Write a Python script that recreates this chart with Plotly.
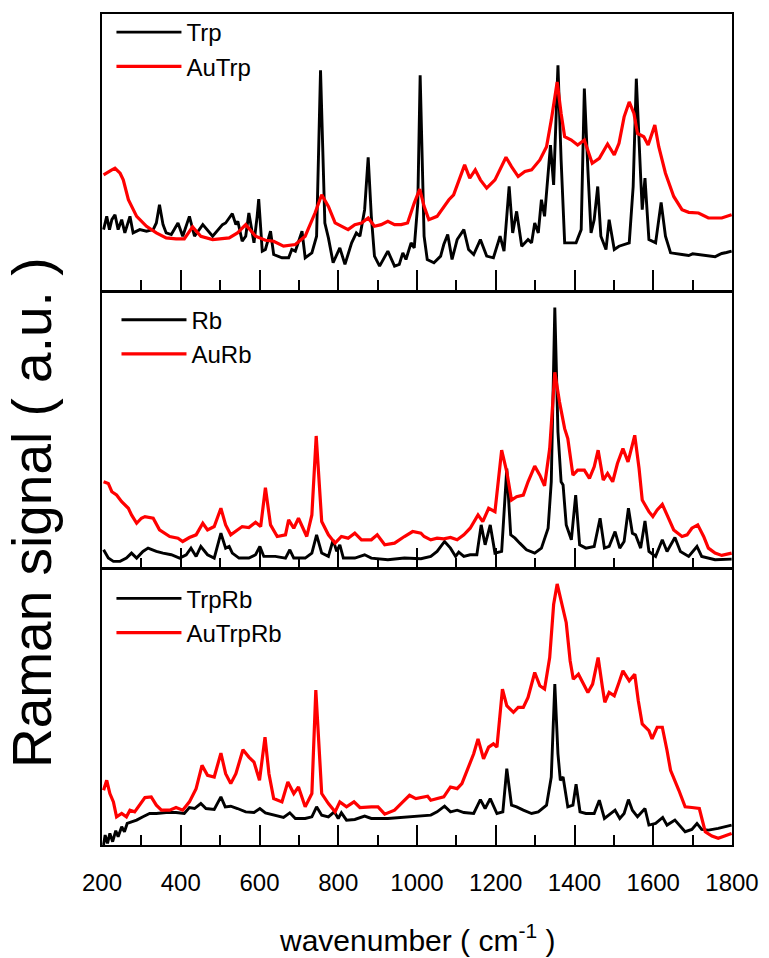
import plotly.graph_objects as go

# Shared Raman-shift axis
WN_RANGE = [200, 1800]
TICK_VALUES = [200, 400, 600, 800, 1000, 1200, 1400, 1600, 1800]
TICK_TEXT = ["200", "400", "600", "800", "1000", "1200", "1400", "1600", "1800"]
SIGNAL_RANGE = [0, 831]

# ---- Panel 1: Trp / AuTrp ----
trp_wn = [204, 212, 219, 225, 233, 241, 250, 258, 271, 279, 296, 313, 330, 338, 346, 355, 363, 376,
          393, 405, 422, 435, 456, 481, 506, 514, 523, 531, 540, 545, 556, 565, 573, 586, 594, 598,
          607, 615, 628, 636, 657, 674, 682, 691, 708, 716, 733, 745, 755, 766, 775, 787, 804, 817,
          834, 846, 855, 867, 876, 884, 892, 905, 926, 943, 955, 964, 972, 985, 993, 1002, 1008,
          1018, 1026, 1043, 1060, 1068, 1078, 1089, 1102, 1119, 1131, 1144, 1161, 1177, 1194, 1211,
          1221, 1234, 1243, 1253, 1266, 1282, 1291, 1299, 1308, 1316, 1324, 1330, 1339, 1347, 1358,
          1366, 1375, 1387, 1404, 1417, 1425, 1434, 1442, 1450, 1459, 1467, 1480, 1488, 1501, 1513,
          1539, 1549, 1557, 1568, 1572, 1579, 1589, 1606, 1620, 1631, 1644, 1673, 1690, 1700, 1715,
          1740, 1757, 1765, 1774, 1786, 1799]
trp_int = [181, 221, 181, 211, 226, 181, 211, 171, 221, 171, 181, 176, 181, 201, 256, 196, 171, 166,
           201, 161, 221, 161, 196, 161, 196, 201, 216, 229, 196, 206, 146, 161, 231, 141, 221, 273,
           116, 121, 176, 106, 96, 96, 121, 116, 176, 96, 111, 161, 661, 201, 156, 81, 126, 76,
           141, 171, 161, 241, 399, 221, 101, 71, 116, 71, 76, 111, 91, 141, 126, 261, 646,
           161, 91, 81, 101, 136, 166, 91, 151, 181, 121, 106, 151, 101, 96, 161,
           116, 311, 171, 236, 131, 151, 141, 201, 171, 271, 221, 301, 436, 316, 676,
           391, 141, 141, 141, 181, 606, 361, 171, 211, 311, 161, 121, 211, 121, 131,
           141, 311, 636, 341, 241, 336, 151, 141, 263, 161, 111, 106, 103, 108, 106,
           101, 99, 104, 109, 112, 116]

autrp_wn = [204, 216, 225, 233, 246, 254, 267, 288, 313, 338, 363, 388, 409, 430, 451, 481, 523, 544,
            565, 590, 615, 636, 661, 691, 716, 741, 758, 775, 792, 825, 842, 859, 876, 892, 909, 926,
            943, 960, 976, 993, 1007, 1018, 1030, 1051, 1068, 1081, 1093, 1106, 1121, 1134, 1148,
            1161, 1177, 1198, 1211, 1226, 1240, 1257, 1274, 1291, 1312, 1329, 1341, 1350, 1356, 1366,
            1375, 1392, 1408, 1425, 1434, 1445, 1463, 1471, 1484, 1501, 1513, 1526, 1539, 1551, 1560,
            1576, 1587, 1604, 1614, 1631, 1652, 1673, 1690, 1715, 1740, 1774, 1799]
autrp_int = [346, 356, 361, 366, 351, 331, 271, 221, 191, 171, 156, 153, 153, 189, 161, 151, 156, 171,
             196, 161, 149, 146, 131, 136, 161, 231, 286, 251, 201, 181, 196, 201, 216, 191, 196, 206,
             196, 196, 201, 261, 303, 251, 211, 221, 251, 271, 286, 331, 376, 336, 361,
             331, 306, 331, 361, 399, 371, 341, 356, 361, 391, 431, 511, 581, 626, 531,
             461, 451, 436, 451, 421, 381, 396, 411, 439, 406, 441, 521, 566, 531, 471,
             461, 436, 496, 431, 351, 281, 241, 233, 231, 216, 216, 226]

# ---- Panel 2: Rb / AuRb ----
rb_wn = [204, 216, 229, 246, 262, 275, 288, 304, 317, 338, 355, 376, 397, 414, 426, 439, 451, 468,
         485, 502, 514, 523, 531, 548, 573, 590, 601, 611, 640, 666, 677, 687, 716, 733, 745, 758,
         775, 787, 796, 804, 813, 842, 867, 884, 926, 968, 1010, 1035, 1051, 1070, 1085, 1098, 1106,
         1119, 1135, 1152, 1163, 1173, 1186, 1198, 1215, 1228, 1238, 1249, 1261, 1278, 1299, 1316,
         1333, 1341, 1350, 1358, 1366, 1371, 1379, 1392, 1403, 1413, 1429, 1450, 1465, 1476, 1488,
         1503, 1515, 1526, 1537, 1547, 1555, 1568, 1579, 1589, 1606, 1623, 1635, 1655, 1669, 1690,
         1711, 1723, 1757, 1799]
rb_int = [56, 31, 21, 21, 31, 46, 31, 51, 61, 51, 46, 41, 31, 41, 61, 36, 66, 41,
          31, 106, 61, 66, 46, 31, 31, 41, 66, 36, 36, 31, 56, 31, 31, 46, 101, 46,
          36, 86, 51, 71, 31, 31, 41, 31, 26, 31, 29, 36, 51, 81, 61, 36, 49,
          36, 41, 41, 131, 71, 131, 46, 51, 301, 101, 91, 76, 56, 46, 61,
          121, 261, 786, 411, 261, 251, 131, 86, 221, 71, 61, 66, 151, 61, 66,
          111, 61, 81, 181, 106, 101, 61, 143, 51, 36, 86, 51, 93, 51, 36,
          66, 36, 26, 28]

aurb_wn = [204, 216, 225, 237, 250, 267, 275, 288, 300, 309, 330, 346, 372, 393, 405, 422, 439, 456,
           468, 485, 502, 514, 527, 540, 556, 573, 590, 603, 615, 628, 645, 666, 674, 687, 699, 720,
           733, 744, 758, 775, 792, 808, 825, 842, 859, 884, 899, 918, 943, 968, 989, 1010, 1018,
           1035, 1051, 1068, 1085, 1102, 1119, 1135, 1155, 1167, 1182, 1198, 1215, 1228, 1240, 1253,
           1270, 1282, 1299, 1312, 1324, 1337, 1350, 1362, 1375, 1383, 1396, 1408, 1425, 1438, 1450,
           1460, 1473, 1484, 1497, 1509, 1523, 1536, 1553, 1564, 1572, 1589, 1599, 1610, 1623, 1635,
           1652, 1673, 1686, 1698, 1713, 1728, 1740, 1757, 1774, 1799]
aurb_int = [261, 256, 231, 221, 201, 181, 161, 136, 151, 156, 151, 116, 96, 91, 81, 93, 101, 136,
            116, 126, 181, 131, 101, 111, 126, 123, 139, 126, 243, 131, 96, 101, 146, 121, 151, 96,
            161, 399, 141, 101, 76, 96, 91, 106, 86, 86, 101, 71, 76, 96, 111, 106, 96,
            86, 91, 89, 93, 86, 101, 121, 161, 141, 181, 171, 356, 291, 206, 216,
            221, 261, 308, 281, 249, 361, 591, 501, 421, 391, 281, 296, 296, 271, 306,
            356, 266, 286, 261, 316, 361, 321, 401, 301, 206, 171, 156, 176, 193, 161,
            116, 96, 101, 121, 131, 96, 61, 46, 39, 46]

# ---- Panel 3: TrpRb / AuTrpRb ----
trprb_wn = [204, 208, 214, 220, 227, 235, 241, 250, 257, 264, 275, 288, 304, 321, 338, 363, 388, 409,
            422, 435, 451, 464, 485, 502, 513, 527, 544, 565, 586, 601, 615, 640, 661, 677, 691, 716,
            733, 745, 758, 775, 790, 800, 808, 821, 842, 867, 884, 926, 968, 1010, 1035, 1051, 1070,
            1085, 1102, 1119, 1144, 1161, 1173, 1186, 1203, 1218, 1228, 1240, 1253, 1270, 1291, 1308,
            1329, 1341, 1350, 1358, 1364, 1371, 1383, 1396, 1404, 1414, 1429, 1450, 1463, 1476, 1488,
            1503, 1515, 1526, 1537, 1547, 1560, 1579, 1589, 1606, 1624, 1635, 1655, 1669, 1681, 1698,
            1711, 1723, 1740, 1765, 1799]
trprb_int = [0, 30, 5, 35, 10, 43, 25, 55, 40, 65, 70, 75, 85, 95, 95, 98, 98, 95,
             113, 110, 125, 110, 107, 145, 115, 117, 110, 100, 98, 110, 97, 90, 83, 97, 80, 80,
             85, 115, 90, 85, 100, 80, 97, 75, 77, 87, 80, 80, 83, 87, 90, 100, 117,
             100, 105, 98, 95, 137, 110, 140, 95, 100, 230, 120, 115, 105, 95, 100,
             120, 205, 485, 275, 195, 205, 115, 120, 183, 100, 95, 95, 135, 80, 90,
             105, 80, 95, 137, 105, 85, 110, 60, 65, 83, 60, 75, 55, 40, 47,
             65, 47, 45, 50, 60]

autrprb_wn = [204, 212, 220, 229, 237, 250, 262, 271, 283, 296, 309, 325, 338, 351, 372, 388, 405, 422,
              439, 454, 468, 485, 502, 514, 527, 540, 558, 573, 586, 600, 614, 624, 636, 657, 672, 687,
              699, 716, 733, 743, 758, 775, 792, 804, 821, 840, 855, 884, 901, 918, 943, 964, 981, 997,
              1027, 1035, 1051, 1068, 1085, 1102, 1114, 1127, 1144, 1155, 1169, 1182, 1194, 1203, 1217,
              1228, 1245, 1257, 1270, 1282, 1299, 1312, 1324, 1337, 1347, 1356, 1371, 1379, 1389, 1397,
              1410, 1421, 1434, 1446, 1460, 1471, 1477, 1488, 1501, 1513, 1523, 1539, 1553, 1562, 1572,
              1589, 1597, 1610, 1623, 1635, 1644, 1665, 1681, 1698, 1717, 1732, 1749, 1765, 1786, 1799]
autrprb_int = [165, 195, 155, 130, 85, 95, 85, 105, 100, 120, 143, 145, 120, 105, 105, 113, 105, 130,
               170, 240, 210, 205, 277, 215, 185, 215, 287, 265, 250, 195, 325, 215, 140, 130, 190, 155,
               175, 115, 155, 467, 155, 125, 100, 130, 115, 130, 113, 115, 115, 93, 105, 130, 150, 140,
               147, 135, 140, 145, 175, 170, 185, 225, 275, 320, 260, 295, 305, 295, 470,
               420, 400, 415, 415, 445, 520, 480, 470, 565, 725, 787, 705, 670, 555, 500,
               515, 490, 460, 485, 565, 475, 430, 460, 450, 490, 525, 495, 515, 435, 365,
               345, 320, 355, 355, 285, 225, 165, 115, 113, 110, 40, 27, 20, 30, 35]

FONT = "Liberation Sans, Arial, sans-serif"
BLACK = "#000000"
RED = "#ff0000"

panels = [
    # (suffix, legend id, black name, black x, black y, red name, red x, red y)
    ("", "legend", "Trp", trp_wn, trp_int, "AuTrp", autrp_wn, autrp_int),
    ("2", "legend2", "Rb", rb_wn, rb_int, "AuRb", aurb_wn, aurb_int),
    ("3", "legend3", "TrpRb", trprb_wn, trprb_int, "AuTrpRb", autrprb_wn, autrprb_int),
]

fig = go.Figure()
for suffix, leg, n1, x1, y1, n2, x2, y2 in panels:
    fig.add_trace(go.Scatter(x=x1, y=y1, name=n1, mode="lines", legend=leg,
                             line=dict(color=BLACK, width=2.9),
                             xaxis="x" + suffix, yaxis="y" + suffix))
    fig.add_trace(go.Scatter(x=x2, y=y2, name=n2, mode="lines", legend=leg,
                             line=dict(color=RED, width=3.2),
                             xaxis="x" + suffix, yaxis="y" + suffix))

y_domains = [[0.6683, 1.0], [0.3329, 0.6647], [0.0, 0.3317]]

axis_common = dict(showline=True, linewidth=2, linecolor=BLACK, mirror=True,
                   showgrid=False, zeroline=False)

layout = dict(
    width=769, height=958,
    margin=dict(l=102, r=32, t=10, b=113),
    paper_bgcolor="white", plot_bgcolor="white",
    font=dict(family=FONT, color=BLACK),
    showlegend=True,
)

for i, (suffix, *_rest) in enumerate(panels):
    last = i == len(panels) - 1
    layout["xaxis" + suffix] = dict(
        axis_common, range=WN_RANGE, anchor="y" + suffix, domain=[0, 1],
        tickmode="array", tickvals=TICK_VALUES, ticktext=TICK_TEXT,
        ticks="inside", ticklen=20, tickwidth=2, tickcolor=BLACK,
        minor=dict(ticks="inside", ticklen=10, tickwidth=2, tickcolor=BLACK, dtick=100,
                   tick0=200, showgrid=False),
        showticklabels=last,
        tickfont=dict(family=FONT, size=24, color=BLACK),
        ticklabelstandoff=15,
    )
    if suffix:
        layout["xaxis" + suffix]["matches"] = "x"
    layout["yaxis" + suffix] = dict(
        axis_common, range=SIGNAL_RANGE, anchor="x" + suffix, domain=y_domains[i],
        showticklabels=False, ticks="",
    )

legend_tops = [1.0048, 0.6587, 0.3234]
legend_xs = [0.015, 0.023, 0.015]
for i, (suffix, leg, *_rest) in enumerate(panels):
    layout[leg] = dict(
        x=legend_xs[i], y=legend_tops[i], xanchor="left", yanchor="top",
        bgcolor="rgba(0,0,0,0)", borderwidth=0, itemwidth=65,
        font=dict(family=FONT, size=24, color=BLACK),
        tracegroupgap=0,
    )

fig.update_layout(**layout)

# Axis titles
fig.add_annotation(text="Raman signal ( a.u. )", textangle=-90,
                   xref="paper", yref="paper", x=-0.112, y=0.40,
                   xanchor="center", yanchor="middle", showarrow=False,
                   font=dict(family=FONT, size=55, color=BLACK))
fig.add_annotation(text="wavenumber ( cm<sup>-1</sup> )",
                   xref="paper", yref="paper", x=0.5, y=-0.112,
                   xanchor="center", yanchor="middle", showarrow=False,
                   font=dict(family=FONT, size=30, color=BLACK))

fig.write_html("out.html")
